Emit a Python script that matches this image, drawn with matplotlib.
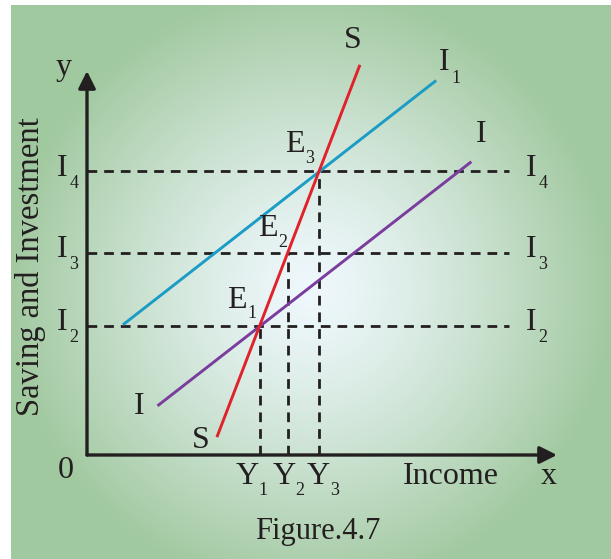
import numpy as np
import matplotlib
matplotlib.use("Agg")
from matplotlib import pyplot as plt

# chart units: income along x, saving/investment along y
# equilibrium points E1, E2, E3
eq_x = [4.33, 5.03, 5.80]
eq_y = [3.23, 5.06, 7.09]
eq_names = ["1", "2", "3"]
# investment levels I2, I3, I4 (dashed guides)
inv_levels = [3.23, 5.06, 7.09]
inv_names = ["2", "3", "4"]
# schedule lines (start, end)
s_x = [3.26, 6.81]
s_y = [0.48, 9.72]
i1_x = [0.93, 8.70]
i1_y = [3.28, 9.34]
i_x = [1.79, 9.58]
i_y = [1.25, 7.31]
guide_end = 10.54
x_axis_end = 11.75
y_axis_end = 9.6

FONT = "Liberation Serif"
INK = "#231f20"

fig = plt.figure(figsize=(6.11, 5.59), dpi=100)
ax = fig.add_axes([0, 0, 1, 1])
ax.set_xlim(-2.175, 13.1)
ax.set_ylim(-2.6, 11.375)
ax.axis("off")

# green panel with a light radial glow
W, H = 600, 554
yy, xx = np.mgrid[0:H, 0:W]
r = np.hypot(xx - 299, yy - 285) / 300.0
t = np.clip(r, 0, 1)[..., None] ** 1.3
centre = np.array([239, 248, 253]) / 255.0
edge = np.array([162, 201, 160]) / 255.0
img = centre + (edge - centre) * t
ax.imshow(img, extent=(-1.9, 13.1, -2.6, 11.25), aspect="auto", zorder=0)

# axes with arrows
ax.annotate("", xy=(x_axis_end, 0), xytext=(0, 0),
            arrowprops=dict(arrowstyle="-|>", color=INK, lw=2.4,
                            mutation_scale=26, shrinkA=0, shrinkB=0))
ax.annotate("", xy=(0, y_axis_end), xytext=(0, 0),
            arrowprops=dict(arrowstyle="-|>", color=INK, lw=2.4,
                            mutation_scale=26, shrinkA=0, shrinkB=0))

# dashed guides
for lvl in inv_levels:
    ax.plot([0, guide_end], [lvl, lvl], color=INK, lw=2.0, ls=(0, (3.5, 2.5)), zorder=2)
for ex, ey in zip(eq_x, eq_y):
    ax.plot([ex, ex], [0, ey], color=INK, lw=2.0, ls=(0, (3.5, 2.5)), zorder=2)

# schedules
ax.plot(i1_x, i1_y, color="#1b9cc6", lw=2.1, zorder=3)
ax.plot(i_x, i_y, color="#7a3d9e", lw=2.1, zorder=3)
ax.plot(s_x, s_y, color="#e0222b", lw=2.1, zorder=4)


def label(x, y, main, sub=None, dx=8.5, dy=-11):
    ax.text(x, y, main, family=FONT, fontsize=23, color=INK,
            ha="center", va="center", zorder=5)
    if sub:
        ax.annotate(sub, (x, y), xytext=(dx, dy), textcoords="offset points",
                    family=FONT, fontsize=13, color=INK,
                    ha="center", va="center", zorder=5)


label(-0.575, 9.7, "y")
label(11.55, -0.55, "x")
label(-0.525, -0.4, "0")
label(6.65, 10.35, "S")
label(2.85, 0.35, "S")
label(8.925, 9.8, "I", "1")
label(9.85, 8.0, "I")
label(1.3, 1.2, "I")
for n, lvl in zip(inv_names, inv_levels):
    label(-0.625, lvl + 0.08, "I", n)
    label(11.1, lvl + 0.08, "I", n)
label(5.2, 7.75, "E", "3", dx=10.5, dy=-10)
label(4.52, 5.65, "E", "2", dx=10.5, dy=-10)
label(3.75, 3.875, "E", "1", dx=10.5, dy=-10)
for n, ex in zip(eq_names, [4.0, 4.93, 5.78]):
    label(ex, -0.55, "Y", n, dx=11.5, dy=-10)

ax.text(9.1, -0.55, "Income", family=FONT, fontsize=23, color=INK,
        ha="center", va="center")
ax.text(-1.4, 4.72, "Saving and Investment", family=FONT, fontsize=23.5,
        color=INK, ha="center", va="center", rotation=90)
ax.text(5.775, -1.92, "Figure.4.7", family=FONT, fontsize=22, color=INK,
        ha="center", va="center")

fig.savefig("out.png", dpi=100)
